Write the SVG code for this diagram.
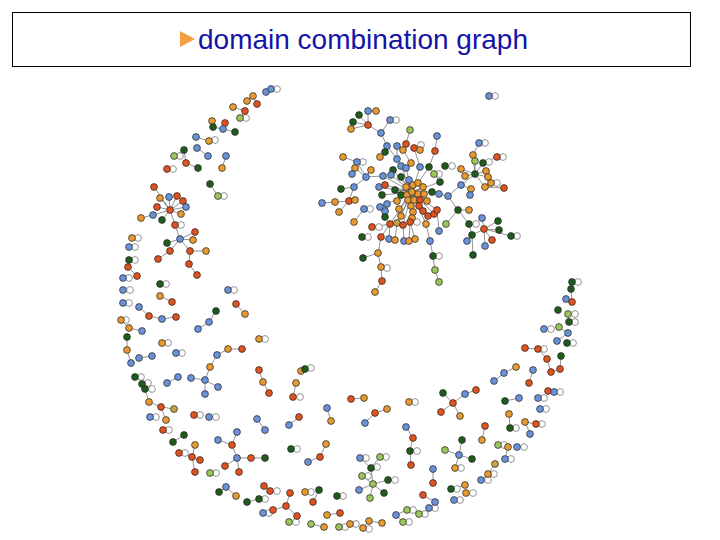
<svg xmlns="http://www.w3.org/2000/svg" width="720" height="540" viewBox="0 0 720 540">
<style>
#nodes circle{stroke:#2b2b2b;stroke-width:.75}
.b{fill:#6a92da}.o{fill:#e89a30}.r{fill:#e0521e}.g{fill:#1e5c1c}.l{fill:#9cc55a}.y{fill:#c9a244}
#edges path{fill:none;stroke:#666;stroke-width:.7}
#edges circle{fill:#fff;stroke:#7a7a7a;stroke-width:.8}
</style>
<rect width="720" height="540" fill="#fff"/>
<g id="title">
<rect x="12.5" y="12.5" width="678" height="54" fill="none" stroke="#000" stroke-width="1"/>
<polygon points="180,31 195,39 180,47" fill="#f5a040"/>
<text x="198" y="49" font-family="Liberation Sans, Arial, sans-serif" font-size="28" fill="#1414a8">domain combination graph</text>
</g>
<g id="edges">
<path d="M266 92L271 89M253 96L247 101M253 96L257 104M233 107L245 111L240 118M212 121L213 127L223 129L235 132M225 123L223 129M196 137L209 141M197 148L208 156M226 156L222 168M174 156L184 150L186 163L198 168M210 184L218 196"/>
<path d="M170 210L154 187M170 210L160 198M170 210L169 197M170 210L177 196M170 210L183 201M170 210L157 207M170 210L186 207M170 210L153 215L141 218M170 210L162 220M170 210L181 214M170 210L175 225M180 239L175 225M180 239L193 240M180 239L195 232M180 239L167 243M180 239L170 251L158 259M180 239L190 251M190 251L189 264L197 275"/>
<path d="M190 251L206 251" stroke-width="1.6" stroke="#999"/>
<path d="M129 260L128 267L137 276M160 296L172 302M139 307L149 316L162 319L176 317M236 304L245 314M216 311L209 322L198 329M121 320L129 328L142 331M127 337L127 350L131 363M139 358L152 356M242 349L228 349L217 355L210 367L205 380L191 378M205 380L218 387M205 380L205 394M167 383L178 377M259 370L263 382L269 393M296 383L293 397M301 371L305 369M145 389L149 402L161 407L174 409M161 407L166 420M257 419L265 430M299 417L289 425M184 435L173 442M195 445L192 457L179 453M192 457L200 460M192 457L195 472M237 432L232 445L218 440M232 445L237 458L251 458L265 458M237 458L225 466M237 458L239 472M219 492L226 487L236 496M247 502L259 499M264 486L270 491M290 493L286 506L273 510L263 513M286 506L297 516M319 490L313 502M327 515L340 513M311 524L324 527M363 528L369 521L382 523M396 515L407 510L419 514M396 515L403 522M326 444L320 457L308 462M327 408L331 421M351 399L364 398M365 423L375 413L387 409M406 427L413 438L410 451L411 465"/>
<path d="M373 484L371 468M373 484L362 476M373 484L388 480M373 484L359 490M373 484L384 493M373 484L370 498M371 468L360 458M371 468L380 457"/>
<path d="M443 393L453 403L465 394L476 390M453 403L441 412M453 403L460 416M505 401L519 398M548 391L554 392M509 414L510 428M530 434L525 422L536 424M485 426L482 440M462 440L459 455L445 450M459 455L472 459M459 455L455 468M508 447L505 459M495 464L488 474L481 480M433 469L433 483M451 489L465 485M423 495L435 502M572 282L571 289L572 302L566 299M568 314L569 322M559 327L568 333L557 341M525 348L538 349L547 359L551 372L560 369L561 356M516 367L504 373L494 381M533 370L529 383"/>
<path d="M368 125L359 115M368 125L368 111L376 111M368 125L353 122M368 125L351 129M368 125L381 133L390 120M381 133L387 146L397 159L401 166L412 192M397 146L397 159M410 130L406 144L403 150L411 163L406 168L412 192M437 136L435 151L429 167L412 192M385 152L387 146M385 152L380 157M420 150L414 148L420 167L412 192M343 157L357 162L366 177L383 176L412 192M355 168L366 177M371 170L366 177M352 174L355 168M341 189L354 187L366 177M354 187L349 201L335 202L322 203M349 201L355 200M349 201L339 212M364 209L354 222"/>
<path d="M393 170L412 192M391 175L412 192M401 177L412 192M409 180L412 192M440 182L412 192M434 174L440 182M379 187L412 192M385 185L412 192M395 190L412 192M382 195L412 192M401 195L412 192M448 196L439 194L432 192L412 192M412 192L406 187M412 192L413 185M412 192L418 183M412 192L423 187M412 192L407 195M412 192L418 194M412 192L424 194M412 192L408 200M412 192L414 200M412 192L420 200M412 192L427 201M412 192L397 201M412 192L387 204L380 207M387 204L385 211L385 217M412 192L399 209M412 192L411 206M412 192L419 206M412 192L423 211M412 192L428 216M412 192L434 214M412 192L437 210M412 192L413 212M412 192L412 218M412 192L401 216M412 192L390 224M412 192L397 223M412 192L403 225M412 192L410 222M412 192L426 224"/>
<path d="M372 227L390 224M381 237L390 224M389 239L390 224M395 240L397 223M404 241L403 225M409 241L410 222M415 239L410 222M381 237L378 253L381 267L382 281L375 292M363 258L378 253M430 241L426 224M439 231L437 210M430 241L433 256L435 270L439 282M446 224L458 210M479 143L473 155L475 174M475 161L475 174M461 169L475 174M465 176L475 174M486 171L475 174M488 177L475 174M483 163L475 174M497 157L483 163M461 185L448 196M461 185L471 189L470 195M461 185L475 174M485 187L504 188M485 187L491 183M485 187L475 174M448 196L458 210L469 210M458 210L469 224L472 235L484 229M472 235L473 255M484 229L482 218M484 229L498 221M484 229L499 230M484 229L492 240M484 229L485 246M484 229L511 236M467 241L472 235"/>
<g id="loops">
<circle cx="277" cy="89" r="3.4"/><circle cx="246" cy="118" r="3.4"/><circle cx="215" cy="140" r="3.4"/><circle cx="180" cy="156" r="3.4"/><circle cx="173" cy="169" r="3.4"/><circle cx="224" cy="196" r="3.4"/><circle cx="181" cy="225" r="3.4"/><circle cx="138" cy="238" r="3.4"/><circle cx="135" cy="247" r="3.4"/><circle cx="135" cy="260" r="3.4"/><circle cx="129" cy="278" r="3.4"/><circle cx="166" cy="284" r="3.4"/><circle cx="130" cy="290" r="3.4"/><circle cx="234" cy="290" r="3.4"/><circle cx="129" cy="303" r="3.4"/><circle cx="126" cy="320" r="3.4"/><circle cx="168" cy="343" r="3.4"/><circle cx="182" cy="353" r="3.4"/><circle cx="265" cy="339" r="3.4"/><circle cx="300" cy="397" r="3.4"/><circle cx="311" cy="368" r="3.4"/><circle cx="141" cy="377" r="3.4"/><circle cx="148" cy="383" r="3.4"/><circle cx="152" cy="389" r="3.4"/><circle cx="156" cy="417" r="3.4"/><circle cx="200" cy="415" r="3.4"/><circle cx="216" cy="417" r="3.4"/><circle cx="169" cy="430" r="3.4"/><circle cx="185" cy="453" r="3.4"/><circle cx="216" cy="473" r="3.4"/><circle cx="265" cy="499" r="3.4"/><circle cx="277" cy="491" r="3.4"/><circle cx="269" cy="513" r="3.4"/><circle cx="296" cy="522" r="3.4"/><circle cx="311" cy="492" r="3.4"/><circle cx="343" cy="496" r="3.4"/><circle cx="345" cy="527" r="3.4"/><circle cx="356" cy="524" r="3.4"/><circle cx="369" cy="529" r="3.4"/><circle cx="413" cy="510" r="3.4"/><circle cx="425" cy="514" r="3.4"/><circle cx="409" cy="522" r="3.4"/><circle cx="297" cy="449" r="3.4"/><circle cx="415" cy="402" r="3.4"/><circle cx="417" cy="451" r="3.4"/><circle cx="366" cy="458" r="3.4"/><circle cx="386" cy="457" r="3.4"/><circle cx="377" cy="467" r="3.4"/><circle cx="368" cy="476" r="3.4"/><circle cx="395" cy="480" r="3.4"/><circle cx="560" cy="392" r="3.4"/><circle cx="544" cy="398" r="3.4"/><circle cx="546" cy="409" r="3.4"/><circle cx="516" cy="428" r="3.4"/><circle cx="542" cy="424" r="3.4"/><circle cx="461" cy="468" r="3.4"/><circle cx="504" cy="445" r="3.4"/><circle cx="524" cy="447" r="3.4"/><circle cx="511" cy="459" r="3.4"/><circle cx="494" cy="474" r="3.4"/><circle cx="488" cy="480" r="3.4"/><circle cx="457" cy="489" r="3.4"/><circle cx="473" cy="493" r="3.4"/><circle cx="460" cy="500" r="3.4"/><circle cx="435" cy="508" r="3.4"/><circle cx="578" cy="282" r="3.4"/><circle cx="575" cy="314" r="3.4"/><circle cx="575" cy="322" r="3.4"/><circle cx="551" cy="329" r="3.4"/><circle cx="573" cy="343" r="3.4"/><circle cx="544" cy="349" r="3.4"/><circle cx="495" cy="96" r="3.4"/><circle cx="396" cy="120" r="3.4"/><circle cx="421" cy="145" r="3.4"/><circle cx="363" cy="162" r="3.4"/><circle cx="439" cy="174" r="3.4"/><circle cx="452" cy="166" r="3.4"/><circle cx="370" cy="209" r="3.4"/><circle cx="417" cy="222" r="3.4"/><circle cx="379" cy="227" r="3.4"/><circle cx="368" cy="237" r="3.4"/><circle cx="387" cy="268" r="3.4"/><circle cx="439" cy="256" r="3.4"/><circle cx="485" cy="143" r="3.4"/><circle cx="489" cy="162" r="3.4"/><circle cx="503" cy="157" r="3.4"/><circle cx="497" cy="183" r="3.4"/><circle cx="476" cy="224" r="3.4"/><circle cx="517" cy="236" r="3.4"/>
</g>
</g>
<g id="nodes">
<circle id="n1" class="b" cx="266" cy="92" r="3.4"/><circle id="n2" class="b" cx="271" cy="89" r="3.4"/><circle id="n3" class="o" cx="253" cy="96" r="3.4"/><circle id="n4" class="o" cx="247" cy="101" r="3.4"/><circle id="n5" class="r" cx="257" cy="104" r="3.4"/><circle id="n6" class="o" cx="233" cy="107" r="3.4"/><circle id="n7" class="r" cx="245" cy="111" r="3.4"/><circle id="n8" class="l" cx="240" cy="118" r="3.4"/><circle id="n9" class="o" cx="212" cy="121" r="3.4"/><circle id="n10" class="r" cx="225" cy="123" r="3.4"/><circle id="n11" class="g" cx="213" cy="127" r="3.4"/><circle id="n12" class="b" cx="223" cy="129" r="3.4"/><circle id="n13" class="g" cx="235" cy="132" r="3.4"/><circle id="n14" class="b" cx="196" cy="137" r="3.4"/><circle id="n15" class="o" cx="209" cy="141" r="3.4"/><circle id="n16" class="b" cx="197" cy="148" r="3.4"/><circle id="n17" class="b" cx="208" cy="156" r="3.4"/><circle id="n18" class="b" cx="226" cy="156" r="3.4"/><circle id="n19" class="o" cx="222" cy="168" r="3.4"/><circle id="n20" class="g" cx="184" cy="150" r="3.4"/><circle id="n21" class="l" cx="174" cy="156" r="3.4"/><circle id="n22" class="r" cx="186" cy="163" r="3.4"/><circle id="n23" class="g" cx="198" cy="168" r="3.4"/><circle id="n24" class="r" cx="167" cy="169" r="3.4"/><circle id="n25" class="g" cx="210" cy="184" r="3.4"/><circle id="n26" class="l" cx="218" cy="196" r="3.4"/>
<circle id="n27" class="r" cx="154" cy="187" r="3.4"/><circle id="n28" class="o" cx="160" cy="198" r="3.4"/><circle id="n29" class="b" cx="169" cy="197" r="3.4"/><circle id="n30" class="r" cx="177" cy="196" r="3.4"/><circle id="n31" class="r" cx="183" cy="201" r="3.4"/><circle id="n32" class="r" cx="157" cy="207" r="3.4"/><circle id="n33" class="r" cx="170" cy="210" r="3.4"/><circle id="n34" class="b" cx="186" cy="207" r="3.4"/><circle id="n35" class="o" cx="141" cy="218" r="3.4"/><circle id="n36" class="b" cx="153" cy="215" r="3.4"/><circle id="n37" class="g" cx="162" cy="220" r="3.4"/><circle id="n38" class="o" cx="181" cy="214" r="3.4"/><circle id="n39" class="r" cx="175" cy="225" r="3.4"/><circle id="n40" class="r" cx="195" cy="232" r="3.4"/><circle id="n41" class="b" cx="180" cy="239" r="3.4"/><circle id="n42" class="o" cx="193" cy="240" r="3.4"/><circle id="n43" class="g" cx="167" cy="243" r="3.4"/><circle id="n44" class="r" cx="170" cy="251" r="3.4"/><circle id="n45" class="r" cx="190" cy="251" r="3.4"/><circle id="n46" class="o" cx="206" cy="251" r="3.4"/><circle id="n47" class="r" cx="158" cy="259" r="3.4"/><circle id="n48" class="r" cx="189" cy="264" r="3.4"/><circle id="n49" class="r" cx="197" cy="275" r="3.4"/>
<circle id="n50" class="o" cx="132" cy="238" r="3.4"/><circle id="n51" class="b" cx="129" cy="247" r="3.4"/><circle id="n52" class="g" cx="129" cy="260" r="3.4"/><circle id="n53" class="r" cx="128" cy="267" r="3.4"/><circle id="n54" class="r" cx="137" cy="276" r="3.4"/><circle id="n55" class="b" cx="123" cy="278" r="3.4"/><circle id="n56" class="g" cx="160" cy="284" r="3.4"/><circle id="n57" class="b" cx="123" cy="290" r="3.4"/><circle id="n58" class="b" cx="228" cy="290" r="3.4"/><circle id="n59" class="o" cx="160" cy="296" r="3.4"/><circle id="n60" class="r" cx="172" cy="302" r="3.4"/><circle id="n61" class="b" cx="123" cy="303" r="3.4"/><circle id="n62" class="b" cx="139" cy="307" r="3.4"/><circle id="n63" class="r" cx="149" cy="316" r="3.4"/><circle id="n64" class="b" cx="162" cy="319" r="3.4"/><circle id="n65" class="r" cx="176" cy="317" r="3.4"/><circle id="n66" class="r" cx="236" cy="304" r="3.4"/><circle id="n67" class="o" cx="245" cy="314" r="3.4"/><circle id="n68" class="g" cx="216" cy="311" r="3.4"/><circle id="n69" class="b" cx="209" cy="322" r="3.4"/><circle id="n70" class="b" cx="198" cy="329" r="3.4"/><circle id="n71" class="o" cx="121" cy="320" r="3.4"/><circle id="n72" class="o" cx="129" cy="328" r="3.4"/><circle id="n73" class="b" cx="142" cy="331" r="3.4"/><circle id="n74" class="g" cx="127" cy="337" r="3.4"/><circle id="n75" class="o" cx="127" cy="350" r="3.4"/><circle id="n76" class="b" cx="131" cy="363" r="3.4"/><circle id="n77" class="o" cx="162" cy="343" r="3.4"/><circle id="n78" class="b" cx="176" cy="353" r="3.4"/><circle id="n79" class="o" cx="259" cy="339" r="3.4"/><circle id="n80" class="b" cx="139" cy="358" r="3.4"/><circle id="n81" class="b" cx="152" cy="356" r="3.4"/><circle id="n82" class="o" cx="228" cy="349" r="3.4"/><circle id="n83" class="r" cx="242" cy="349" r="3.4"/><circle id="n84" class="b" cx="217" cy="355" r="3.4"/><circle id="n85" class="o" cx="210" cy="367" r="3.4"/><circle id="n86" class="b" cx="205" cy="380" r="3.4"/><circle id="n87" class="b" cx="191" cy="378" r="3.4"/><circle id="n88" class="b" cx="218" cy="387" r="3.4"/><circle id="n89" class="b" cx="205" cy="394" r="3.4"/><circle id="n90" class="b" cx="167" cy="383" r="3.4"/><circle id="n91" class="b" cx="178" cy="377" r="3.4"/><circle id="n92" class="r" cx="259" cy="370" r="3.4"/><circle id="n93" class="o" cx="263" cy="382" r="3.4"/><circle id="n94" class="r" cx="269" cy="393" r="3.4"/><circle id="n95" class="o" cx="296" cy="383" r="3.4"/><circle id="n96" class="r" cx="293" cy="397" r="3.4"/><circle id="n97" class="o" cx="301" cy="371" r="3.4"/><circle id="n98" class="g" cx="305" cy="369" r="3.4"/><circle id="n99" class="g" cx="135" cy="377" r="3.4"/><circle id="n100" class="g" cx="142" cy="384" r="3.4"/><circle id="n101" class="g" cx="145" cy="389" r="3.4"/><circle id="n102" class="o" cx="149" cy="402" r="3.4"/><circle id="n103" class="r" cx="161" cy="407" r="3.4"/><circle id="n104" class="y" cx="174" cy="409" r="3.4"/><circle id="n105" class="o" cx="166" cy="420" r="3.4"/><circle id="n106" class="b" cx="150" cy="417" r="3.4"/><circle id="n107" class="r" cx="194" cy="415" r="3.4"/><circle id="n108" class="b" cx="209" cy="417" r="3.4"/><circle id="n109" class="b" cx="257" cy="419" r="3.4"/><circle id="n110" class="b" cx="265" cy="430" r="3.4"/><circle id="n111" class="r" cx="299" cy="417" r="3.4"/><circle id="n112" class="b" cx="289" cy="425" r="3.4"/><circle id="n113" class="r" cx="163" cy="430" r="3.4"/><circle id="n114" class="g" cx="184" cy="435" r="3.4"/><circle id="n115" class="g" cx="173" cy="442" r="3.4"/><circle id="n116" class="o" cx="195" cy="445" r="3.4"/><circle id="n117" class="r" cx="179" cy="453" r="3.4"/><circle id="n118" class="r" cx="192" cy="457" r="3.4"/><circle id="n119" class="r" cx="200" cy="460" r="3.4"/><circle id="n120" class="r" cx="195" cy="472" r="3.4"/><circle id="n121" class="b" cx="237" cy="432" r="3.4"/><circle id="n122" class="r" cx="232" cy="445" r="3.4"/><circle id="n123" class="b" cx="218" cy="440" r="3.4"/><circle id="n124" class="b" cx="237" cy="458" r="3.4"/><circle id="n125" class="r" cx="251" cy="458" r="3.4"/><circle id="n126" class="g" cx="265" cy="458" r="3.4"/><circle id="n127" class="r" cx="225" cy="466" r="3.4"/><circle id="n128" class="r" cx="239" cy="472" r="3.4"/><circle id="n129" class="l" cx="210" cy="473" r="3.4"/><circle id="n130" class="b" cx="226" cy="487" r="3.4"/><circle id="n131" class="g" cx="219" cy="492" r="3.4"/><circle id="n132" class="o" cx="236" cy="496" r="3.4"/><circle id="n133" class="g" cx="247" cy="502" r="3.4"/><circle id="n134" class="g" cx="259" cy="499" r="3.4"/><circle id="n135" class="r" cx="264" cy="486" r="3.4"/><circle id="n136" class="r" cx="270" cy="491" r="3.4"/><circle id="n137" class="r" cx="290" cy="493" r="3.4"/><circle id="n138" class="r" cx="286" cy="506" r="3.4"/><circle id="n139" class="r" cx="273" cy="510" r="3.4"/><circle id="n140" class="b" cx="263" cy="513" r="3.4"/><circle id="n141" class="r" cx="297" cy="516" r="3.4"/><circle id="n142" class="l" cx="289" cy="522" r="3.4"/><circle id="n143" class="o" cx="305" cy="492" r="3.4"/><circle id="n144" class="g" cx="319" cy="490" r="3.4"/><circle id="n145" class="r" cx="313" cy="502" r="3.4"/><circle id="n146" class="g" cx="337" cy="496" r="3.4"/><circle id="n147" class="o" cx="327" cy="515" r="3.4"/><circle id="n148" class="r" cx="340" cy="513" r="3.4"/><circle id="n149" class="l" cx="311" cy="524" r="3.4"/><circle id="n150" class="o" cx="324" cy="527" r="3.4"/><circle id="n151" class="l" cx="339" cy="527" r="3.4"/><circle id="n152" class="o" cx="350" cy="524" r="3.4"/><circle id="n153" class="o" cx="363" cy="528" r="3.4"/><circle id="n154" class="o" cx="369" cy="521" r="3.4"/><circle id="n155" class="o" cx="382" cy="523" r="3.4"/><circle id="n156" class="b" cx="396" cy="515" r="3.4"/><circle id="n157" class="l" cx="407" cy="510" r="3.4"/><circle id="n158" class="l" cx="419" cy="514" r="3.4"/><circle id="n159" class="l" cx="403" cy="522" r="3.4"/><circle id="n160" class="g" cx="291" cy="449" r="3.4"/><circle id="n161" class="o" cx="326" cy="444" r="3.4"/><circle id="n162" class="r" cx="320" cy="457" r="3.4"/><circle id="n163" class="b" cx="308" cy="462" r="3.4"/><circle id="n164" class="b" cx="327" cy="408" r="3.4"/><circle id="n165" class="o" cx="331" cy="421" r="3.4"/><circle id="n166" class="r" cx="351" cy="399" r="3.4"/><circle id="n167" class="o" cx="364" cy="398" r="3.4"/><circle id="n168" class="r" cx="375" cy="413" r="3.4"/><circle id="n169" class="o" cx="387" cy="409" r="3.4"/><circle id="n170" class="b" cx="365" cy="423" r="3.4"/><circle id="n171" class="o" cx="409" cy="402" r="3.4"/><circle id="n172" class="b" cx="406" cy="427" r="3.4"/><circle id="n173" class="r" cx="413" cy="438" r="3.4"/><circle id="n174" class="g" cx="410" cy="451" r="3.4"/><circle id="n175" class="r" cx="411" cy="465" r="3.4"/>
<circle id="n176" class="b" cx="360" cy="458" r="3.4"/><circle id="n177" class="l" cx="380" cy="457" r="3.4"/><circle id="n178" class="g" cx="371" cy="468" r="3.4"/><circle id="n179" class="l" cx="362" cy="476" r="3.4"/><circle id="n180" class="l" cx="373" cy="484" r="3.4"/><circle id="n181" class="g" cx="388" cy="480" r="3.4"/><circle id="n182" class="b" cx="359" cy="490" r="3.4"/><circle id="n183" class="g" cx="384" cy="493" r="3.4"/><circle id="n184" class="l" cx="370" cy="498" r="3.4"/>
<circle id="n185" class="g" cx="443" cy="393" r="3.4"/><circle id="n186" class="r" cx="453" cy="403" r="3.4"/><circle id="n187" class="b" cx="465" cy="394" r="3.4"/><circle id="n188" class="r" cx="476" cy="390" r="3.4"/><circle id="n189" class="r" cx="441" cy="412" r="3.4"/><circle id="n190" class="o" cx="460" cy="416" r="3.4"/><circle id="n191" class="g" cx="505" cy="401" r="3.4"/><circle id="n192" class="b" cx="519" cy="398" r="3.4"/><circle id="n193" class="r" cx="548" cy="391" r="3.4"/><circle id="n194" class="b" cx="554" cy="392" r="3.4"/><circle id="n195" class="b" cx="538" cy="398" r="3.4"/><circle id="n196" class="b" cx="540" cy="409" r="3.4"/><circle id="n197" class="o" cx="509" cy="414" r="3.4"/><circle id="n198" class="g" cx="510" cy="428" r="3.4"/><circle id="n199" class="o" cx="525" cy="422" r="3.4"/><circle id="n200" class="r" cx="536" cy="424" r="3.4"/><circle id="n201" class="b" cx="530" cy="434" r="3.4"/><circle id="n202" class="r" cx="485" cy="426" r="3.4"/><circle id="n203" class="o" cx="482" cy="440" r="3.4"/><circle id="n204" class="g" cx="462" cy="440" r="3.4"/><circle id="n205" class="b" cx="459" cy="455" r="3.4"/><circle id="n206" class="l" cx="445" cy="450" r="3.4"/><circle id="n207" class="g" cx="472" cy="459" r="3.4"/><circle id="n208" class="o" cx="455" cy="468" r="3.4"/><circle id="n209" class="l" cx="498" cy="445" r="3.4"/><circle id="n210" class="o" cx="508" cy="447" r="3.4"/><circle id="n211" class="b" cx="517" cy="447" r="3.4"/><circle id="n212" class="b" cx="505" cy="459" r="3.4"/><circle id="n213" class="y" cx="495" cy="464" r="3.4"/><circle id="n214" class="o" cx="488" cy="474" r="3.4"/><circle id="n215" class="b" cx="481" cy="480" r="3.4"/><circle id="n216" class="b" cx="433" cy="469" r="3.4"/><circle id="n217" class="r" cx="433" cy="483" r="3.4"/><circle id="n218" class="g" cx="451" cy="489" r="3.4"/><circle id="n219" class="o" cx="465" cy="485" r="3.4"/><circle id="n220" class="o" cx="466" cy="493" r="3.4"/><circle id="n221" class="r" cx="423" cy="495" r="3.4"/><circle id="n222" class="b" cx="435" cy="502" r="3.4"/><circle id="n223" class="b" cx="454" cy="500" r="3.4"/><circle id="n224" class="b" cx="429" cy="508" r="3.4"/>
<circle id="n225" class="g" cx="572" cy="282" r="3.4"/><circle id="n226" class="g" cx="571" cy="289" r="3.4"/><circle id="n227" class="b" cx="566" cy="299" r="3.4"/><circle id="n228" class="r" cx="572" cy="302" r="3.4"/><circle id="n229" class="g" cx="558" cy="310" r="3.4"/><circle id="n230" class="l" cx="568" cy="314" r="3.4"/><circle id="n231" class="g" cx="569" cy="322" r="3.4"/><circle id="n232" class="l" cx="559" cy="327" r="3.4"/><circle id="n233" class="b" cx="544" cy="329" r="3.4"/><circle id="n234" class="b" cx="568" cy="333" r="3.4"/><circle id="n235" class="b" cx="557" cy="341" r="3.4"/><circle id="n236" class="g" cx="567" cy="343" r="3.4"/><circle id="n237" class="r" cx="525" cy="348" r="3.4"/><circle id="n238" class="r" cx="538" cy="349" r="3.4"/><circle id="n239" class="r" cx="547" cy="359" r="3.4"/><circle id="n240" class="r" cx="551" cy="372" r="3.4"/><circle id="n241" class="r" cx="560" cy="369" r="3.4"/><circle id="n242" class="g" cx="561" cy="356" r="3.4"/><circle id="n243" class="o" cx="516" cy="367" r="3.4"/><circle id="n244" class="b" cx="504" cy="373" r="3.4"/><circle id="n245" class="b" cx="494" cy="381" r="3.4"/><circle id="n246" class="b" cx="533" cy="370" r="3.4"/><circle id="n247" class="r" cx="529" cy="383" r="3.4"/>
<circle id="n248" class="b" cx="489" cy="96" r="3.4"/><circle id="n249" class="b" cx="368" cy="111" r="3.4"/><circle id="n250" class="o" cx="376" cy="111" r="3.4"/><circle id="n251" class="g" cx="359" cy="115" r="3.4"/><circle id="n252" class="g" cx="353" cy="122" r="3.4"/><circle id="n253" class="r" cx="368" cy="125" r="3.4"/><circle id="n254" class="o" cx="351" cy="129" r="3.4"/><circle id="n255" class="b" cx="390" cy="120" r="3.4"/><circle id="n256" class="b" cx="381" cy="133" r="3.4"/><circle id="n257" class="l" cx="410" cy="130" r="3.4"/><circle id="n258" class="b" cx="437" cy="136" r="3.4"/><circle id="n259" class="b" cx="387" cy="146" r="3.4"/><circle id="n260" class="b" cx="397" cy="146" r="3.4"/><circle id="n261" class="r" cx="406" cy="144" r="3.4"/><circle id="n262" class="o" cx="403" cy="150" r="3.4"/><circle id="n263" class="r" cx="414" cy="148" r="3.4"/><circle id="n264" class="o" cx="420" cy="150" r="3.4"/><circle id="n265" class="r" cx="435" cy="151" r="3.4"/><circle id="n266" class="g" cx="385" cy="152" r="3.4"/><circle id="n267" class="o" cx="380" cy="157" r="3.4"/><circle id="n268" class="o" cx="343" cy="157" r="3.4"/><circle id="n269" class="b" cx="357" cy="162" r="3.4"/><circle id="n270" class="b" cx="397" cy="159" r="3.4"/><circle id="n271" class="o" cx="411" cy="163" r="3.4"/><circle id="n272" class="b" cx="401" cy="166" r="3.4"/><circle id="n273" class="b" cx="406" cy="168" r="3.4"/><circle id="n274" class="o" cx="355" cy="168" r="3.4"/><circle id="n275" class="o" cx="371" cy="170" r="3.4"/><circle id="n276" class="g" cx="393" cy="170" r="3.4"/><circle id="n277" class="b" cx="420" cy="167" r="3.4"/><circle id="n278" class="g" cx="429" cy="167" r="3.4"/><circle id="n279" class="l" cx="434" cy="174" r="3.4"/><circle id="n280" class="g" cx="445" cy="166" r="3.4"/><circle id="n281" class="b" cx="352" cy="174" r="3.4"/><circle id="n282" class="b" cx="366" cy="177" r="3.4"/><circle id="n283" class="b" cx="383" cy="176" r="3.4"/><circle id="n284" class="b" cx="391" cy="175" r="3.4"/><circle id="n285" class="g" cx="401" cy="177" r="3.4"/><circle id="n286" class="b" cx="409" cy="180" r="3.4"/><circle id="n287" class="g" cx="440" cy="182" r="3.4"/><circle id="n288" class="b" cx="354" cy="187" r="3.4"/><circle id="n289" class="g" cx="341" cy="189" r="3.4"/><circle id="n290" class="b" cx="379" cy="187" r="3.4"/><circle id="n291" class="r" cx="385" cy="185" r="3.4"/><circle id="n292" class="g" cx="395" cy="190" r="3.4"/><circle id="n293" class="g" cx="382" cy="195" r="3.4"/><circle id="n294" class="g" cx="401" cy="195" r="3.4"/><circle id="n295" class="b" cx="448" cy="196" r="3.4"/><circle id="n296" class="g" cx="432" cy="192" r="3.4"/><circle id="n297" class="b" cx="439" cy="194" r="3.4"/><circle id="n298" class="o" cx="335" cy="202" r="3.4"/><circle id="n299" class="b" cx="322" cy="203" r="3.4"/><circle id="n300" class="r" cx="349" cy="201" r="3.4"/><circle id="n301" class="o" cx="355" cy="200" r="3.4"/><circle id="n302" class="o" cx="339" cy="212" r="3.4"/><circle id="n303" class="b" cx="364" cy="209" r="3.4"/><circle id="n304" class="o" cx="354" cy="222" r="3.4"/>
<circle id="n306" class="o" cx="406" cy="187" r="3.4"/><circle id="n307" class="o" cx="413" cy="185" r="3.4"/><circle id="n308" class="o" cx="418" cy="183" r="3.4"/><circle id="n309" class="o" cx="423" cy="187" r="3.4"/><circle id="n310" class="o" cx="407" cy="195" r="3.4"/><circle id="n311" class="o" cx="418" cy="194" r="3.4"/><circle id="n312" class="o" cx="424" cy="194" r="3.4"/><circle id="n314" class="o" cx="408" cy="200" r="3.4"/><circle id="n315" class="o" cx="414" cy="200" r="3.4"/><circle id="n316" class="r" cx="420" cy="200" r="3.4"/><circle id="n317" class="o" cx="427" cy="201" r="3.4"/><circle id="n318" class="o" cx="397" cy="201" r="3.4"/><circle id="n319" class="b" cx="387" cy="204" r="3.4"/><circle id="n320" class="b" cx="380" cy="207" r="3.4"/><circle id="n321" class="b" cx="385" cy="211" r="3.4"/><circle id="n322" class="g" cx="385" cy="217" r="3.4"/><circle id="n323" class="o" cx="399" cy="209" r="3.4"/><circle id="n324" class="o" cx="411" cy="206" r="3.4"/><circle id="n325" class="r" cx="419" cy="206" r="3.4"/><circle id="n326" class="r" cx="423" cy="211" r="3.4"/><circle id="n327" class="r" cx="428" cy="216" r="3.4"/><circle id="n328" class="r" cx="434" cy="214" r="3.4"/><circle id="n329" class="r" cx="437" cy="210" r="3.4"/><circle id="n330" class="o" cx="413" cy="212" r="3.4"/><circle id="n331" class="o" cx="412" cy="218" r="3.4"/><circle id="n332" class="o" cx="401" cy="216" r="3.4"/><circle id="n333" class="r" cx="390" cy="224" r="3.4"/><circle id="n334" class="y" cx="397" cy="223" r="3.4"/><circle id="n335" class="r" cx="403" cy="225" r="3.4"/><circle id="n336" class="r" cx="410" cy="222" r="3.4"/><circle id="n337" class="o" cx="426" cy="224" r="3.4"/><circle id="n305" class="o" cx="412" cy="192" r="3.4"/>
<circle id="n341" class="r" cx="372" cy="227" r="3.4"/><circle id="n342" class="g" cx="362" cy="237" r="3.4"/><circle id="n343" class="r" cx="381" cy="237" r="3.4"/><circle id="n344" class="b" cx="389" cy="239" r="3.4"/><circle id="n345" class="o" cx="395" cy="240" r="3.4"/><circle id="n346" class="b" cx="404" cy="241" r="3.4"/><circle id="n347" class="o" cx="409" cy="241" r="3.4"/><circle id="n348" class="o" cx="415" cy="239" r="3.4"/><circle id="n349" class="o" cx="378" cy="253" r="3.4"/><circle id="n350" class="g" cx="363" cy="258" r="3.4"/><circle id="n351" class="o" cx="381" cy="267" r="3.4"/><circle id="n352" class="r" cx="382" cy="281" r="3.4"/><circle id="n353" class="o" cx="375" cy="292" r="3.4"/><circle id="n354" class="b" cx="430" cy="241" r="3.4"/><circle id="n355" class="b" cx="439" cy="231" r="3.4"/><circle id="n356" class="g" cx="433" cy="256" r="3.4"/><circle id="n357" class="l" cx="435" cy="270" r="3.4"/><circle id="n358" class="l" cx="439" cy="282" r="3.4"/><circle id="n359" class="l" cx="446" cy="224" r="3.4"/><circle id="n360" class="b" cx="479" cy="143" r="3.4"/><circle id="n361" class="o" cx="473" cy="155" r="3.4"/><circle id="n362" class="l" cx="475" cy="161" r="3.4"/><circle id="n363" class="g" cx="483" cy="163" r="3.4"/><circle id="n364" class="r" cx="497" cy="157" r="3.4"/><circle id="n365" class="o" cx="461" cy="169" r="3.4"/><circle id="n366" class="o" cx="465" cy="176" r="3.4"/><circle id="n367" class="g" cx="475" cy="174" r="3.4"/><circle id="n368" class="o" cx="486" cy="171" r="3.4"/><circle id="n369" class="o" cx="488" cy="177" r="3.4"/><circle id="n370" class="b" cx="461" cy="185" r="3.4"/><circle id="n371" class="o" cx="471" cy="189" r="3.4"/><circle id="n372" class="b" cx="470" cy="195" r="3.4"/><circle id="n373" class="o" cx="485" cy="187" r="3.4"/><circle id="n374" class="o" cx="491" cy="183" r="3.4"/><circle id="n375" class="r" cx="504" cy="188" r="3.4"/><circle id="n376" class="g" cx="458" cy="210" r="3.4"/><circle id="n377" class="o" cx="469" cy="210" r="3.4"/><circle id="n378" class="g" cx="469" cy="224" r="3.4"/><circle id="n379" class="g" cx="472" cy="235" r="3.4"/><circle id="n380" class="b" cx="467" cy="241" r="3.4"/><circle id="n381" class="g" cx="473" cy="255" r="3.4"/><circle id="n382" class="r" cx="484" cy="229" r="3.4"/><circle id="n383" class="b" cx="482" cy="218" r="3.4"/><circle id="n384" class="g" cx="498" cy="221" r="3.4"/><circle id="n385" class="g" cx="499" cy="230" r="3.4"/><circle id="n386" class="r" cx="492" cy="240" r="3.4"/><circle id="n387" class="b" cx="485" cy="246" r="3.4"/><circle id="n388" class="g" cx="511" cy="236" r="3.4"/>
</g>
</svg>
